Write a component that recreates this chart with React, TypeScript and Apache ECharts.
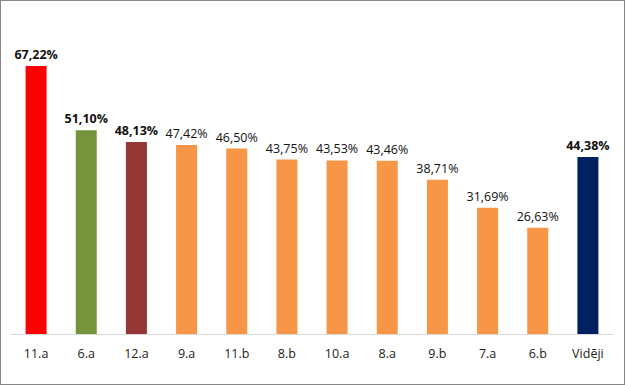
import React, { useEffect, useRef } from "react";
import * as echarts from "echarts";

const categories = ["11.a", "6.a", "12.a", "9.a", "11.b", "8.b", "10.a", "8.a", "9.b", "7.a", "6.b", "Vidēji"];
const values = [67.22, 51.1, 48.13, 47.42, 46.5, 43.75, 43.53, 43.46, 38.71, 31.69, 26.63, 44.38];
const colors = ["#FF0000", "#77933C", "#953735", "#F79646", "#F79646", "#F79646", "#F79646", "#F79646", "#F79646", "#F79646", "#F79646", "#002060"];
const boldLabels = [true, true, true, false, false, false, false, false, false, false, false, true];

export default function App() {
  const ref = useRef<HTMLDivElement>(null);
  useEffect(() => {
    if (!ref.current) return;
    const chart = echarts.init(ref.current, null, { renderer: "svg" });
    chart.setOption({
      animation: false,
      grid: { left: 11, right: 12, top: 15, bottom: 51, containLabel: false },
      xAxis: {
        type: "category",
        data: categories,
        axisLine: { lineStyle: { color: "#d9d9d9", width: 1 } },
        axisTick: { show: false },
        axisLabel: { color: "#222", fontSize: 12.5, fontFamily: "Open Sans", margin: 13 },
      },
      yAxis: {
        type: "value",
        min: 0,
        max: 80,
        show: false,
        splitLine: { show: false },
      },
      series: [
        {
          type: "bar",
          barWidth: 21,
          data: values.map((v, i) => ({
            value: v,
            itemStyle: { color: colors[i] },
            label: {
              show: true,
              position: "top",
              distance: 5,
              color: "#111",
              fontSize: 12.5,
              fontFamily: "Open Sans",
              fontWeight: boldLabels[i] ? "bold" : "normal",
              formatter: () => v.toFixed(2).replace(".", ",") + "%",
            },
          })),
        },
      ],
    });
    return () => chart.dispose();
  }, []);
  return (
    <div
      style={{
        position: "fixed",
        left: 0,
        top: 0,
        width: 625,
        height: 385,
        boxSizing: "border-box",
        border: "1px solid #868686",
        background: "#fff",
      }}
    >
      <div ref={ref} style={{ position: "absolute", left: -1, top: -1, width: 625, height: 385 }} />
    </div>
  );
}
